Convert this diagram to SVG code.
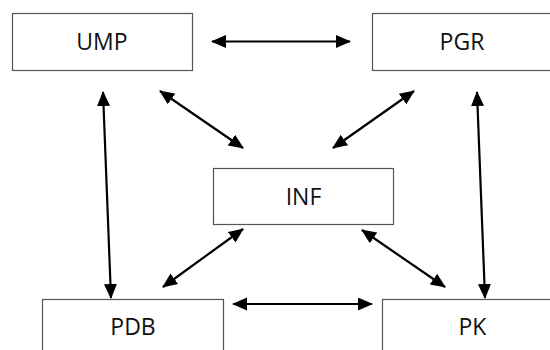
<svg xmlns="http://www.w3.org/2000/svg" width="550" height="350" viewBox="0 0 550 350">
<style>
.box{fill:#fff;stroke:#555;stroke-width:1.2}
.lbl{font-family:"Open Sans","Liberation Sans",sans-serif;font-size:23px;fill:#111;text-anchor:middle}
.con{stroke:#000;stroke-width:2.2;fill:none;marker-start:url(#ah);marker-end:url(#ah)}
</style>
<defs>
<marker id="ah" markerUnits="userSpaceOnUse" markerWidth="16" markerHeight="14" refX="14" refY="6.5" orient="auto-start-reverse" viewBox="0 0 16 14">
<path d="M0,0 L15,6.5 L0,13 z" fill="#000"/>
</marker>
</defs>
<rect width="550" height="350" fill="#fff"/>
<g id="UMP"><rect class="box" x="12.5" y="13.5" width="180" height="57"/><text class="lbl" x="102" y="50">UMP</text></g>
<g id="PGR"><rect class="box" x="372.5" y="13.5" width="181" height="57"/><text class="lbl" x="462" y="50">PGR</text></g>
<g id="INF"><rect class="box" x="213.5" y="168.5" width="180" height="56"/><text class="lbl" x="303.5" y="205">INF</text></g>
<g id="PDB"><rect class="box" x="42.5" y="299.5" width="181" height="60"/><text class="lbl" x="133" y="335">PDB</text></g>
<g id="PK"><rect class="box" x="382.5" y="299.5" width="181" height="60"/><text class="lbl" x="472.5" y="335">PK</text></g>
<g id="connectors">
<line class="con" x1="212" y1="41.5" x2="350" y2="41.5"/>
<line class="con" x1="160" y1="91" x2="243" y2="148"/>
<line class="con" x1="103" y1="92" x2="111" y2="298"/>
<line class="con" x1="414" y1="91" x2="333" y2="148"/>
<line class="con" x1="477" y1="92" x2="485" y2="298"/>
<line class="con" x1="243" y1="229" x2="163" y2="287"/>
<line class="con" x1="362" y1="230" x2="445" y2="287"/>
<line class="con" x1="233" y1="304" x2="372" y2="304"/>
</g>
</svg>
